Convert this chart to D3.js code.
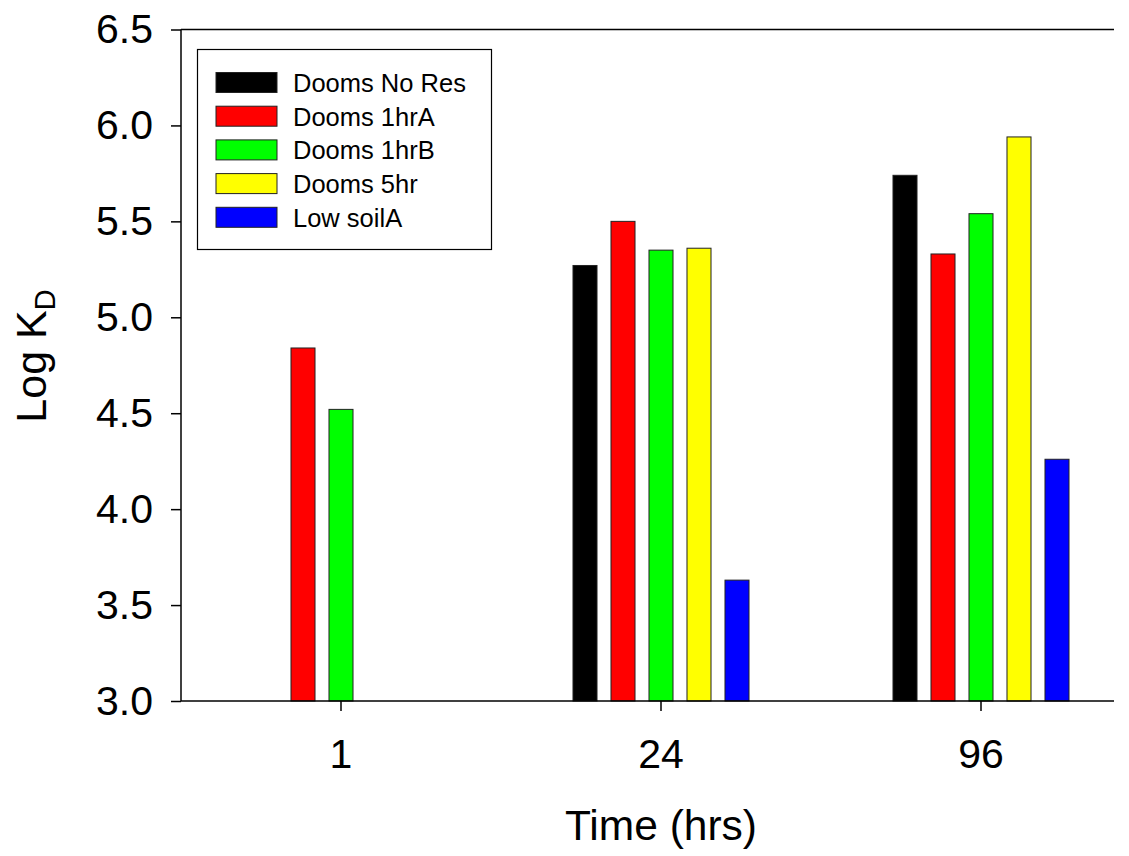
<!DOCTYPE html>
<html>
<head>
<meta charset="utf-8">
<script src="https://cdn.jsdelivr.net/npm/d3@7"></script>
<style>
  body { margin: 0; background: #fff; }
  svg { font-family: "Liberation Sans", Arial, sans-serif; }
</style>
</head>
<body>
<div id="chart"></div>
<script>
// data
let times = ['1', '24', '96'];
let seriesNames = ['Dooms No Res', 'Dooms 1hrA', 'Dooms 1hrB', 'Dooms 5hr', 'Low soilA'];
let seriesColors = ['#000000', '#ff0000', '#00ff00', '#ffff00', '#0000ff'];
let doomsNoRes = [null, 5.27, 5.74];
let dooms1hrA = [4.84, 5.50, 5.33];
let dooms1hrB = [4.52, 5.35, 5.54];
let dooms5hr = [null, 5.36, 5.94];
let lowSoilA = [null, 3.63, 4.26];
let yTicks = [3.0, 3.5, 4.0, 4.5, 5.0, 5.5, 6.0, 6.5];

let seriesValues = [doomsNoRes, dooms1hrA, dooms1hrB, dooms5hr, lowSoilA];

let width = 1129;
let height = 856;
let plotLeft = 181, plotRight = 1114, plotTop = 29.5, plotBottom = 701;

let svg = d3.select('#chart').append('svg')
  .attr('width', width)
  .attr('height', height);

let y = d3.scaleLinear()
  .domain([3.0, 6.5])
  .range([plotBottom, plotTop]);

let x = d3.scaleBand()
  .domain(times)
  .range([plotLeft, plotLeft + 960]);

let xInner = d3.scaleBand()
  .domain(seriesNames)
  .range([-95, 95])
  .paddingInner(0.368)
  .paddingOuter(0.184);

// bars
seriesNames.forEach((name, si) => {
  let rows = times.map((t, i) => ({ t: t, v: seriesValues[si][i] }))
    .filter(d => d.v !== null);
  svg.append('g')
    .selectAll('rect')
    .data(rows)
    .enter()
    .append('rect')
    .attr('x', d => x(d.t) + x.bandwidth() / 2 + xInner(name))
    .attr('width', xInner.bandwidth())
    .attr('y', d => y(d.v))
    .attr('height', d => y(3.0) - y(d.v))
    .style('fill', seriesColors[si])
    .style('stroke', '#222')
    .style('stroke-width', 1);
});

// y axis
let yAxis = svg.append('g')
  .attr('transform', `translate(${plotLeft},0)`)
  .call(d3.axisLeft(y)
    .tickValues(yTicks)
    .tickFormat(d3.format('.1f'))
    .tickSize(10)
    .tickPadding(18));
yAxis.select('.domain').remove();
yAxis.selectAll('line').style('stroke', '#000').style('stroke-width', 1.5);
yAxis.selectAll('text')
  .style('font-size', '41px')
  .style('fill', '#000')
  .style('font-family', '"Liberation Sans", Arial, sans-serif');

// x axis
let xAxis = svg.append('g')
  .attr('transform', `translate(0,${plotBottom})`)
  .call(d3.axisBottom(x)
    .tickSize(10)
    .tickSizeOuter(0)
    .tickPadding(28));
xAxis.select('.domain').remove();
xAxis.selectAll('line').style('stroke', '#000').style('stroke-width', 1.5);
xAxis.selectAll('text')
  .style('font-size', '41px')
  .style('fill', '#000')
  .style('font-family', '"Liberation Sans", Arial, sans-serif');

// frame lines (left, bottom, top)
let frame = svg.append('g').style('stroke', '#000').style('stroke-width', 1.5);
frame.append('line').attr('x1', plotLeft).attr('x2', plotLeft).attr('y1', plotTop).attr('y2', plotBottom);
frame.append('line').attr('x1', plotLeft).attr('x2', plotRight).attr('y1', plotBottom).attr('y2', plotBottom);
frame.append('line').attr('x1', plotLeft).attr('x2', plotRight).attr('y1', plotTop).attr('y2', plotTop);

// axis titles
svg.append('text')
  .attr('x', (x('24') + x.bandwidth() / 2))
  .attr('y', 840)
  .attr('text-anchor', 'middle')
  .style('font-size', '42.5px')
  .text('Time (hrs)');

let yTitle = svg.append('text')
  .attr('transform', 'translate(46,356) rotate(-90)')
  .attr('text-anchor', 'middle')
  .style('font-size', '43px');
yTitle.append('tspan').text('Log K');
yTitle.append('tspan')
  .attr('dy', 9)
  .style('font-size', '29px')
  .text('D');

// legend
let legend = svg.append('g');
legend.append('rect')
  .attr('x', 197.5).attr('y', 49.5)
  .attr('width', 294).attr('height', 200)
  .style('fill', '#fff')
  .style('stroke', '#000')
  .style('stroke-width', 1.2);

let items = legend.selectAll('g.item')
  .data(seriesNames)
  .enter()
  .append('g')
  .attr('class', 'item')
  .attr('transform', (d, i) => `translate(216,${72.5 + i * 33.7})`);

items.append('rect')
  .attr('width', 61)
  .attr('height', 20)
  .style('fill', (d, i) => seriesColors[i])
  .style('stroke', '#222')
  .style('stroke-width', 1);

items.append('text')
  .attr('x', 77)
  .attr('y', 19.5)
  .style('font-size', '25.5px')
  .text(d => d);
</script>
</body>
</html>
